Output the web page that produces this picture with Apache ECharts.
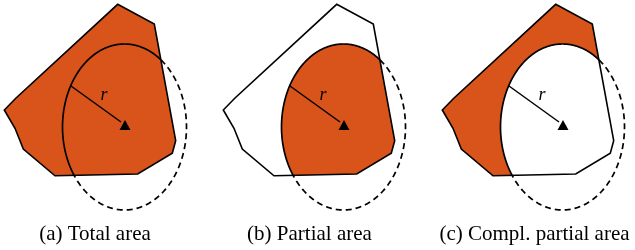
<!DOCTYPE html>
<html><head><meta charset="utf-8">
<script src="https://cdn.jsdelivr.net/npm/echarts@6/dist/echarts.min.js"></script>
<style>html,body{margin:0;padding:0;background:#fff}#c{width:635px;height:250px}</style>
</head><body><div id="c"></div>
<script>
// Region polygon vertices (panel a frame, pixel-like units)
const polyX = [117.7,154.3,175.7,172.3,137.7,55,23.3,15,4.3,15.5];
const polyY = [4.3,24,140.7,153.3,174,175.8,149,128.3,110,98.5];
// Range ellipse
const circleCenter = [124.5,127];
const circleRadii = [62,83];
// Radius line end on ellipse, marker location
const radiusEnd = [71,86];
const markerPos = [125,125];
// Panels
const panelNames = ['(a) Total area','(b) Partial area','(c) Compl. partial area'];
const panelModes = ['total','partial','compl'];
const panelShift = [0,219,438];
const captionX = [95,309.5,534.5];

const ORANGE = '#D9541A';

function ellipsePts(shift){
  const N = 720, pts = [];
  for (let i=0;i<N;i++){
    const t = 2*Math.PI*i/N;
    pts.push([circleCenter[0]+shift+circleRadii[0]*Math.cos(t), circleCenter[1]+circleRadii[1]*Math.sin(t)]);
  }
  return pts;
}
function polyPts(shift){ return polyX.map((x,i)=>[x+shift, polyY[i]]); }
function inPoly(p, poly){
  let c=false;
  for(let i=0,j=poly.length-1;i<poly.length;j=i++){
    const a=poly[i], b=poly[j];
    if(((a[1]>p[1])!==(b[1]>p[1])) && (p[0] < (b[0]-a[0])*(p[1]-a[1])/(b[1]-a[1])+a[0])) c=!c;
  }
  return c;
}
function area(poly){ let s=0; for(let i=0;i<poly.length;i++){const a=poly[i],b=poly[(i+1)%poly.length]; s+=a[0]*b[1]-b[0]*a[1];} return s/2; }
function clip(subject, clipper){
  const sg = area(clipper)>0?1:-1;
  let out = subject.slice();
  for(let e=0;e<clipper.length;e++){
    const A=clipper[e], B=clipper[(e+1)%clipper.length];
    const ins = p => sg*((B[0]-A[0])*(p[1]-A[1])-(B[1]-A[1])*(p[0]-A[0]))>=0;
    const inter=(P,Q)=>{
      const dx=Q[0]-P[0], dy=Q[1]-P[1], ex=B[0]-A[0], ey=B[1]-A[1];
      const den = dx*ey-dy*ex;
      const t = ((A[0]-P[0])*ey-(A[1]-P[1])*ex)/den;
      return [P[0]+t*dx, P[1]+t*dy];
    };
    const inp=out; out=[];
    for(let i=0;i<inp.length;i++){
      const cur=inp[i], prev=inp[(i-1+inp.length)%inp.length];
      if(ins(cur)){ if(!ins(prev)) out.push(inter(prev,cur)); out.push(cur); }
      else if(ins(prev)) out.push(inter(prev,cur));
    }
    if(!out.length) break;
  }
  return out;
}
function arcRuns(ell, poly){
  const N=ell.length, inside=ell.map(p=>inPoly(p,poly));
  let start=0;
  for(let i=0;i<N;i++){ if(inside[i]!==inside[(i-1+N)%N]){start=i;break;} }
  const runs=[]; let cur=[ell[start]], st=inside[start];
  for(let k=1;k<=N;k++){
    const i=(start+k)%N; cur.push(ell[i]);
    if(k===N || inside[i]!==st){ runs.push({inside:st, pts:cur}); cur=[ell[i]]; st=inside[i]; }
  }
  return runs;
}

function renderItem(params, api){
  const idx = api.value(0);
  const shift = panelShift[idx], mode = panelModes[idx];
  const C = p => api.coord(p);
  const poly = polyPts(shift), ell = ellipsePts(shift);
  const inter = clip(poly, ell);
  const children = [];
  const polyPx = poly.map(C), interPx = inter.map(C);
  if(mode!=='partial') children.push({type:'polygon', shape:{points:polyPx}, style:{fill:ORANGE, stroke:null}});
  if(mode!=='total') children.push({type:'polygon', shape:{points:interPx}, style:{fill: mode==='partial'?ORANGE:'#fff', stroke:null}});
  children.push({type:'polygon', shape:{points:polyPx}, style:{fill:null, stroke:'#000', lineWidth:1.6, lineJoin:'miter'}});
  arcRuns(ell, poly).forEach(r=>{
    children.push({type:'polyline', shape:{points:r.pts.map(C)}, style:{fill:null, stroke:'#000', lineWidth:1.7, lineDash: r.inside?null:[6,4]}});
  });
  children.push({type:'line', shape:(()=>{const a=C([radiusEnd[0]+shift,radiusEnd[1]]), b=C([markerPos[0]+shift-4,markerPos[1]-3]); return {x1:a[0],y1:a[1],x2:b[0],y2:b[1]};})(), style:{stroke:'#000', lineWidth:1.5}});
  const rp = C([104+shift, 95]);
  children.push({type:'text', style:{text:'r', x:rp[0], y:rp[1], fontFamily:'Liberation Serif', fontSize:18, fontStyle:'italic', fill:'#000', align:'center', verticalAlign:'middle'}});
  const cp = C([captionX[idx], 234]);
  children.push({type:'text', style:{text:panelNames[idx], x:cp[0], y:cp[1], fontFamily:'Liberation Serif', fontSize:21, fill:'#000', align:'center', verticalAlign:'middle'}});
  return {type:'group', children};
}

const chart = echarts.init(document.getElementById('c'), null, {renderer:'canvas'});
chart.setOption({
  animation:false,
  grid:{left:0,right:0,top:0,bottom:0},
  xAxis:{type:'value', min:0, max:635, show:false},
  yAxis:{type:'value', min:0, max:250, inverse:true, show:false},
  series:[
    {type:'custom', renderItem, data:panelShift.map((s,i)=>[i]), silent:true, clip:false, z:1},
    {type:'scatter', data:panelShift.map(s=>[markerPos[0]+s, markerPos[1]]), symbol:'triangle', symbolSize:[11,10], itemStyle:{color:'#000', opacity:1}, silent:true, z:5}
  ]
});
</script></body></html>
